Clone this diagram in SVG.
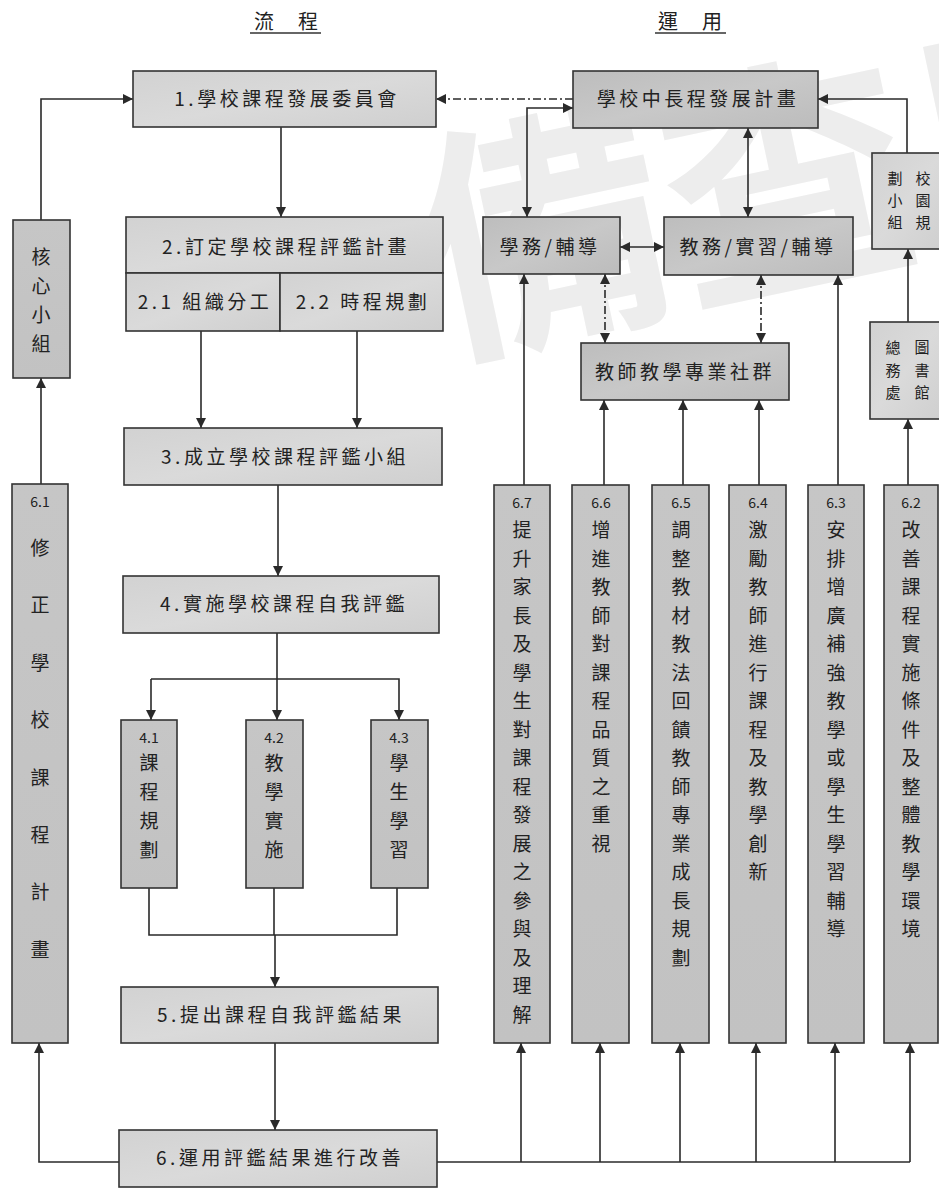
<svg xmlns="http://www.w3.org/2000/svg" width="939" height="1190" viewBox="0 0 939 1190">
<defs>
<marker id="ah" viewBox="0 0 10 10" refX="10" refY="5" markerWidth="10" markerHeight="10" markerUnits="userSpaceOnUse" orient="auto-start-reverse">
<path d="M0 0 L10 5 L0 10 Z" fill="#2a2a2a"/>
</marker>
<linearGradient id="g1" x1="0" y1="0" x2="1" y2="1">
<stop offset="0" stop-color="#d2d2d2"/><stop offset="0.5" stop-color="#dadada"/><stop offset="1" stop-color="#cfcfcf"/>
</linearGradient>
<linearGradient id="g2" x1="0" y1="0" x2="1" y2="1">
<stop offset="0" stop-color="#bdbdbd"/><stop offset="0.5" stop-color="#c8c8c8"/><stop offset="1" stop-color="#bcbcbc"/>
</linearGradient>
<linearGradient id="g3" x1="0" y1="0" x2="0" y2="1">
<stop offset="0" stop-color="#c6c6c6"/><stop offset="1" stop-color="#c2c2c2"/>
</linearGradient>
</defs>
<style>
text{font-family:"Noto Sans CJK TC","Noto Sans CJK SC",sans-serif;fill:#222}
.box{stroke:#333;stroke-width:1.6}
.lt{fill:url(#g1)}
.dk{fill:url(#g2)}
.vb{fill:url(#g3)}
.t{font-size:19px;letter-spacing:3.5px;text-anchor:middle}
.v{font-size:19px;text-anchor:middle}
.s{font-size:15px;text-anchor:middle}
.n{font-size:14px;text-anchor:middle}
.ttl{font-size:20px;text-anchor:middle;letter-spacing:2px}
.c{fill:none;stroke:#2a2a2a;stroke-width:1.6}
.a{marker-end:url(#ah)}
.b{marker-start:url(#ah);marker-end:url(#ah)}
.d{stroke-dasharray:8 3 2 3}
.wm{font-family:"Noto Sans CJK TC",sans-serif;font-weight:bold;font-size:250px;fill:#ededed}
</style>
<rect width="939" height="1190" fill="#ffffff"/>
<g id="watermark">
<text class="wm" transform="translate(440 350) rotate(-12)">備查用</text>
</g>
<g id="titles">
<text class="ttl" x="287" y="29">流　程</text>
<line x1="250" y1="33" x2="321" y2="33" stroke="#333" stroke-width="1.3"/>
<text class="ttl" x="691" y="29">運　用</text>
<line x1="655" y1="33" x2="726" y2="33" stroke="#333" stroke-width="1.3"/>
</g>
<g id="connectors">
<path class="c a" d="M41 220 V99 H133"/>
<path class="c a" d="M41 484 V378"/>
<path class="c a" d="M119 1162 H39 V1043"/>
<path class="c a" d="M281 127 V217"/>
<path class="c a" d="M201 331 V428"/>
<path class="c a" d="M357 331 V428"/>
<path class="c a" d="M278 485 V576"/>
<path class="c a" d="M277 633 V720"/>
<path class="c a" d="M151 679 H399 V720"/>
<path class="c a" d="M151 679 V720"/>
<path class="c" d="M149 888 V935 H397 V888"/>
<path class="c" d="M274 888 V935"/>
<path class="c a" d="M275 935 V987"/>
<path class="c a" d="M275 1043 V1130"/>
<path class="c" d="M437 1162 H910"/>
<path class="c a" d="M521 1162 V1043"/>
<path class="c a" d="M600 1162 V1043"/>
<path class="c a" d="M680 1162 V1043"/>
<path class="c a" d="M756 1162 V1043"/>
<path class="c a" d="M835 1162 V1043"/>
<path class="c a" d="M910 1162 V1043"/>
<path class="c a" d="M524 485 V274"/>
<path class="c a" d="M604 485 V400"/>
<path class="c a" d="M683 485 V400"/>
<path class="c a" d="M759 485 V400"/>
<path class="c a" d="M838 485 V275"/>
<path class="c a" d="M908 485 V419"/>
<path class="c a" d="M908 322 V249"/>
<path class="c a" d="M907 153 V99 H818"/>
<path class="c d b" d="M605 274 V343"/>
<path class="c d b" d="M761 275 V343"/>
<path class="c b" d="M573 108 H527 V217"/>
<path class="c b" d="M748 128 V217"/>
<path class="c b" d="M620 247 H664"/>
<path class="c d a" d="M573 99 H436"/>
</g>
<g id="n1"><rect class="box lt" x="133" y="71" width="303" height="56"/><text class="t" x="287" y="106">1.學校課程發展委員會</text></g>
<g id="n2"><rect class="box lt" x="126" y="217" width="317" height="56"/><text class="t" x="286" y="254">2.訂定學校課程評鑑計畫</text></g>
<g id="n21"><rect class="box lt" x="126" y="273" width="154" height="58"/><text class="t" x="205" y="309">2.1 組織分工</text></g>
<g id="n22"><rect class="box lt" x="280" y="273" width="163" height="58"/><text class="t" x="363" y="309">2.2 時程規劃</text></g>
<g id="n3"><rect class="box lt" x="124" y="428" width="318" height="57"/><text class="t" x="285" y="464">3.成立學校課程評鑑小組</text></g>
<g id="n4"><rect class="box lt" x="123" y="576" width="316" height="57"/><text class="t" x="284" y="611">4.實施學校課程自我評鑑</text></g>
<g id="n41"><rect class="box vb" x="121" y="720" width="56" height="168"/><text class="n" x="149" y="743">4.1</text><text class="v" x="149" y="770">課<tspan x="149" dy="29">程</tspan><tspan x="149" dy="29">規</tspan><tspan x="149" dy="29">劃</tspan></text></g>
<g id="n42"><rect class="box vb" x="246" y="720" width="57" height="168"/><text class="n" x="274" y="743">4.2</text><text class="v" x="274" y="770">教<tspan x="274" dy="29">學</tspan><tspan x="274" dy="29">實</tspan><tspan x="274" dy="29">施</tspan></text></g>
<g id="n43"><rect class="box vb" x="371" y="720" width="57" height="168"/><text class="n" x="399" y="743">4.3</text><text class="v" x="399" y="770">學<tspan x="399" dy="29">生</tspan><tspan x="399" dy="29">學</tspan><tspan x="399" dy="29">習</tspan></text></g>
<g id="n5"><rect class="box lt" x="121" y="987" width="317" height="56"/><text class="t" x="281" y="1022">5.提出課程自我評鑑結果</text></g>
<g id="n6"><rect class="box lt" x="119" y="1130" width="318" height="57"/><text class="t" x="280" y="1165">6.運用評鑑結果進行改善</text></g>
<g id="core"><rect class="box vb" x="13" y="220" width="57" height="158"/><text class="v" x="41" y="264">核<tspan x="41" dy="29">心</tspan><tspan x="41" dy="29">小</tspan><tspan x="41" dy="29">組</tspan></text></g>
<g id="n61"><rect class="box vb" x="12" y="484" width="56" height="559"/><text class="n" x="40" y="507">6.1</text><text class="v" x="40" y="555">修<tspan x="40" dy="57.4">正</tspan><tspan x="40" dy="57.4">學</tspan><tspan x="40" dy="57.4">校</tspan><tspan x="40" dy="57.4">課</tspan><tspan x="40" dy="57.4">程</tspan><tspan x="40" dy="57.4">計</tspan><tspan x="40" dy="57.4">畫</tspan></text></g>
<g id="plan"><rect class="box dk" x="573" y="71" width="245" height="57"/><text class="t" x="698" y="106">學校中長程發展計畫</text></g>
<g id="stu"><rect class="box dk" x="483" y="217" width="137" height="57"/><text class="t" x="550" y="254">學務/輔導</text></g>
<g id="acad"><rect class="box dk" x="664" y="217" width="189" height="58"/><text class="t" x="758" y="254">教務/實習/輔導</text></g>
<g id="campus"><rect class="box lt" x="872" y="153" width="70" height="96"/><text class="s" x="923" y="184">校<tspan x="923" dy="22">園</tspan><tspan x="923" dy="22">規</tspan></text><text class="s" x="895" y="184">劃<tspan x="895" dy="22">小</tspan><tspan x="895" dy="22">組</tspan></text></g>
<g id="gen"><rect class="box lt" x="870" y="322" width="72" height="97"/><text class="s" x="922" y="353">圖<tspan x="922" dy="22.5">書</tspan><tspan x="922" dy="22.5">館</tspan></text><text class="s" x="893" y="353">總<tspan x="893" dy="22.5">務</tspan><tspan x="893" dy="22.5">處</tspan></text></g>
<g id="plc"><rect class="box dk" x="581" y="343" width="208" height="57"/><text class="t" x="685" y="379">教師教學專業社群</text></g>
<g id="n67"><rect class="box vb" x="494" y="485" width="56" height="558"/><text class="n" x="522" y="508">6.7</text><text class="v" x="522" y="537">提<tspan x="522" dy="28.5">升</tspan><tspan x="522" dy="28.5">家</tspan><tspan x="522" dy="28.5">長</tspan><tspan x="522" dy="28.5">及</tspan><tspan x="522" dy="28.5">學</tspan><tspan x="522" dy="28.5">生</tspan><tspan x="522" dy="28.5">對</tspan><tspan x="522" dy="28.5">課</tspan><tspan x="522" dy="28.5">程</tspan><tspan x="522" dy="28.5">發</tspan><tspan x="522" dy="28.5">展</tspan><tspan x="522" dy="28.5">之</tspan><tspan x="522" dy="28.5">參</tspan><tspan x="522" dy="28.5">與</tspan><tspan x="522" dy="28.5">及</tspan><tspan x="522" dy="28.5">理</tspan><tspan x="522" dy="28.5">解</tspan></text></g>
<g id="n66"><rect class="box vb" x="572" y="485" width="57" height="558"/><text class="n" x="601" y="508">6.6</text><text class="v" x="601" y="537">增<tspan x="601" dy="28.5">進</tspan><tspan x="601" dy="28.5">教</tspan><tspan x="601" dy="28.5">師</tspan><tspan x="601" dy="28.5">對</tspan><tspan x="601" dy="28.5">課</tspan><tspan x="601" dy="28.5">程</tspan><tspan x="601" dy="28.5">品</tspan><tspan x="601" dy="28.5">質</tspan><tspan x="601" dy="28.5">之</tspan><tspan x="601" dy="28.5">重</tspan><tspan x="601" dy="28.5">視</tspan></text></g>
<g id="n65"><rect class="box vb" x="652" y="485" width="57" height="558"/><text class="n" x="681" y="508">6.5</text><text class="v" x="681" y="537">調<tspan x="681" dy="28.5">整</tspan><tspan x="681" dy="28.5">教</tspan><tspan x="681" dy="28.5">材</tspan><tspan x="681" dy="28.5">教</tspan><tspan x="681" dy="28.5">法</tspan><tspan x="681" dy="28.5">回</tspan><tspan x="681" dy="28.5">饋</tspan><tspan x="681" dy="28.5">教</tspan><tspan x="681" dy="28.5">師</tspan><tspan x="681" dy="28.5">專</tspan><tspan x="681" dy="28.5">業</tspan><tspan x="681" dy="28.5">成</tspan><tspan x="681" dy="28.5">長</tspan><tspan x="681" dy="28.5">規</tspan><tspan x="681" dy="28.5">劃</tspan></text></g>
<g id="n64"><rect class="box vb" x="729" y="485" width="57" height="558"/><text class="n" x="758" y="508">6.4</text><text class="v" x="758" y="537">激<tspan x="758" dy="28.5">勵</tspan><tspan x="758" dy="28.5">教</tspan><tspan x="758" dy="28.5">師</tspan><tspan x="758" dy="28.5">進</tspan><tspan x="758" dy="28.5">行</tspan><tspan x="758" dy="28.5">課</tspan><tspan x="758" dy="28.5">程</tspan><tspan x="758" dy="28.5">及</tspan><tspan x="758" dy="28.5">教</tspan><tspan x="758" dy="28.5">學</tspan><tspan x="758" dy="28.5">創</tspan><tspan x="758" dy="28.5">新</tspan></text></g>
<g id="n63"><rect class="box vb" x="808" y="485" width="56" height="558"/><text class="n" x="836" y="508">6.3</text><text class="v" x="836" y="537">安<tspan x="836" dy="28.5">排</tspan><tspan x="836" dy="28.5">增</tspan><tspan x="836" dy="28.5">廣</tspan><tspan x="836" dy="28.5">補</tspan><tspan x="836" dy="28.5">強</tspan><tspan x="836" dy="28.5">教</tspan><tspan x="836" dy="28.5">學</tspan><tspan x="836" dy="28.5">或</tspan><tspan x="836" dy="28.5">學</tspan><tspan x="836" dy="28.5">生</tspan><tspan x="836" dy="28.5">學</tspan><tspan x="836" dy="28.5">習</tspan><tspan x="836" dy="28.5">輔</tspan><tspan x="836" dy="28.5">導</tspan></text></g>
<g id="n62"><rect class="box vb" x="884" y="485" width="54" height="558"/><text class="n" x="911" y="508">6.2</text><text class="v" x="911" y="537">改<tspan x="911" dy="28.5">善</tspan><tspan x="911" dy="28.5">課</tspan><tspan x="911" dy="28.5">程</tspan><tspan x="911" dy="28.5">實</tspan><tspan x="911" dy="28.5">施</tspan><tspan x="911" dy="28.5">條</tspan><tspan x="911" dy="28.5">件</tspan><tspan x="911" dy="28.5">及</tspan><tspan x="911" dy="28.5">整</tspan><tspan x="911" dy="28.5">體</tspan><tspan x="911" dy="28.5">教</tspan><tspan x="911" dy="28.5">學</tspan><tspan x="911" dy="28.5">環</tspan><tspan x="911" dy="28.5">境</tspan></text></g>
</svg>
